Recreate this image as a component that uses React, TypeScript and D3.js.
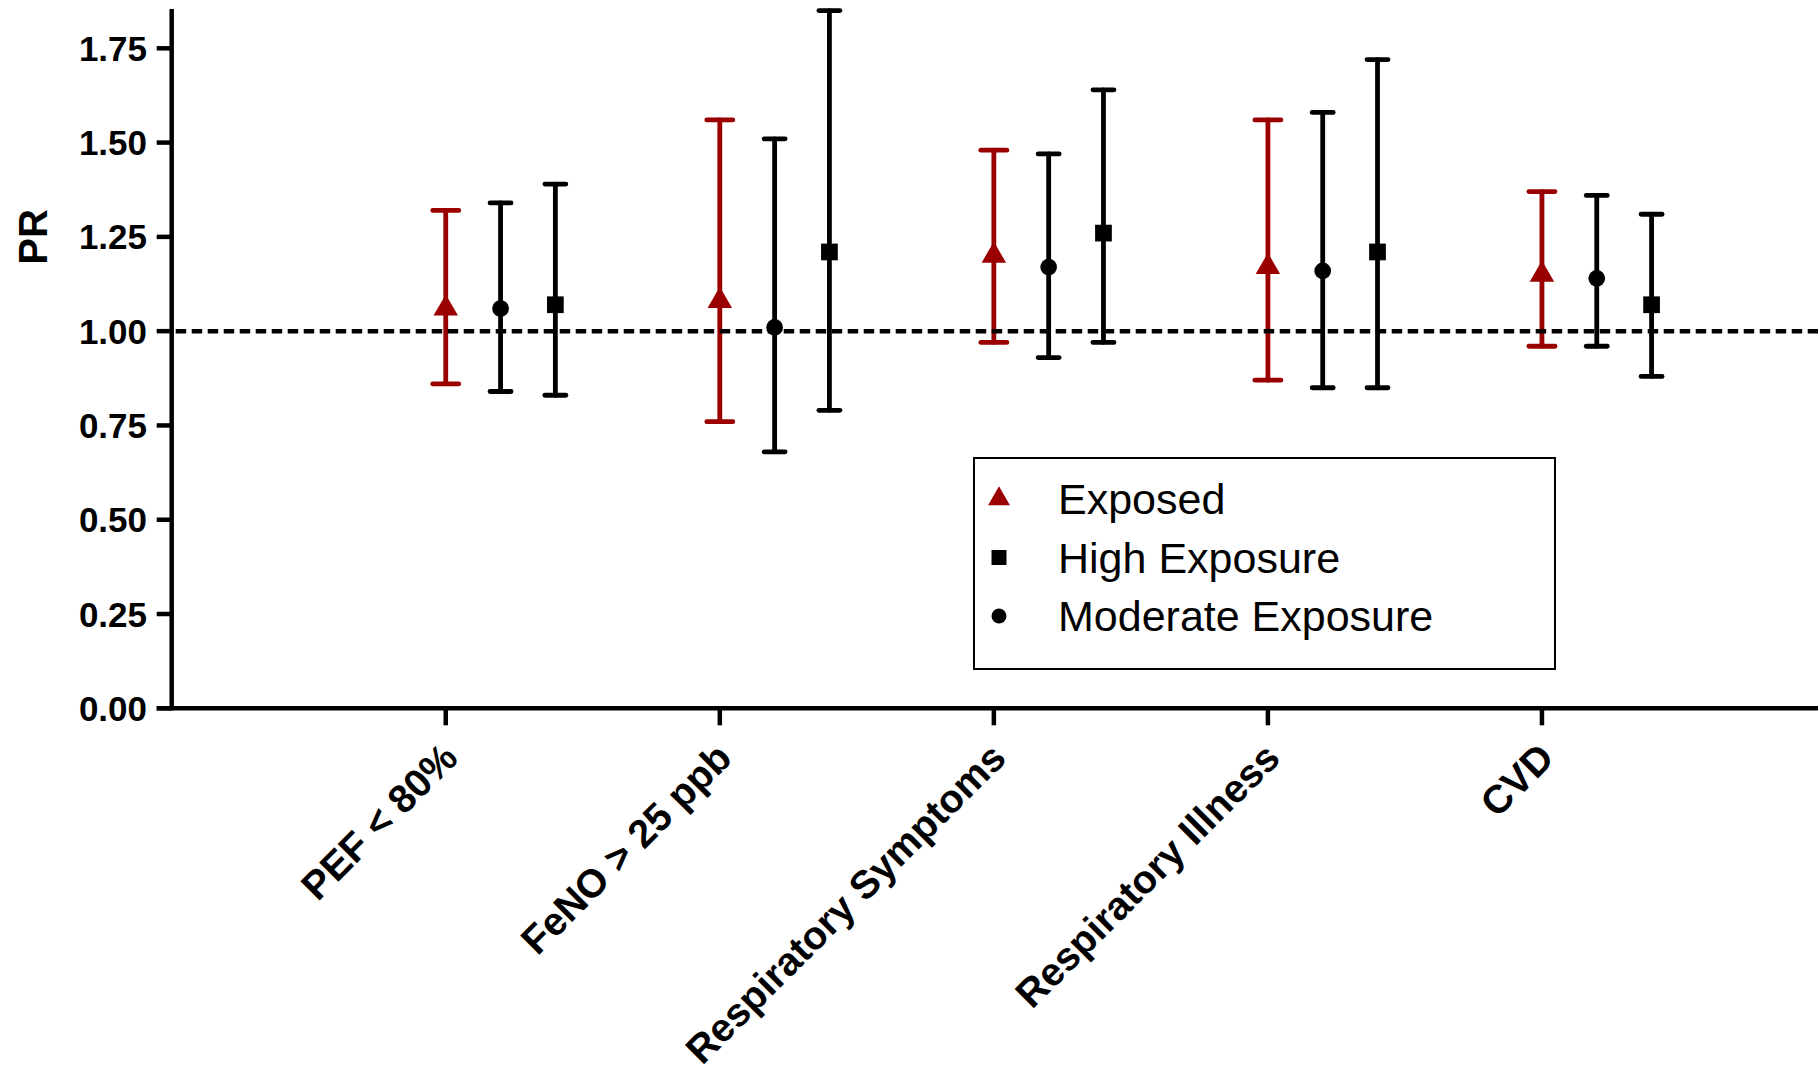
import React from "react";
import * as d3 from "d3";

const categories = ["PEF < 80%", "FeNO > 25 ppb", "Respiratory Symptoms", "Respiratory Illness", "CVD"];
const exposedPR = [1.06, 1.08, 1.2, 1.17, 1.15];
const exposedLo = [0.86, 0.76, 0.97, 0.87, 0.96];
const exposedHi = [1.32, 1.56, 1.48, 1.56, 1.37];
const moderatePR = [1.06, 1.01, 1.17, 1.16, 1.14];
const moderateLo = [0.84, 0.68, 0.93, 0.85, 0.96];
const moderateHi = [1.34, 1.51, 1.47, 1.58, 1.36];
const highPR = [1.07, 1.21, 1.26, 1.21, 1.07];
const highLo = [0.83, 0.79, 0.97, 0.85, 0.88];
const highHi = [1.39, 1.85, 1.64, 1.72, 1.31];
const yTicks = [0, 0.25, 0.5, 0.75, 1.0, 1.25, 1.5, 1.75];
const yTickLabels = ["0.00", "0.25", "0.50", "0.75", "1.00", "1.25", "1.50", "1.75"];
const referenceLine = 1.0;
const legendLabels = ["Exposed", "High Exposure", "Moderate Exposure"];

const RED = "#9b0000";
const FONT = "'Liberation Sans', Arial, Helvetica, sans-serif";

type Series = { name: string; pr: number[]; lo: number[]; hi: number[]; slot: number; color: string; symbol: d3.SymbolType; size: number; cap: number };

const series: Series[] = [
  { name: "Exposed", pr: exposedPR, lo: exposedLo, hi: exposedHi, slot: 0, color: RED, symbol: d3.symbolTriangle, size: 260, cap: 13 },
  { name: "Moderate Exposure", pr: moderatePR, lo: moderateLo, hi: moderateHi, slot: 1, color: "#000", symbol: d3.symbolCircle, size: 220, cap: 10.5 },
  { name: "High Exposure", pr: highPR, lo: highLo, hi: highHi, slot: 2, color: "#000", symbol: d3.symbolSquare, size: 280, cap: 10.5 },
];

export default function App() {
  const W = 1818, H = 1079;
  const axisX = 171.7;
  const y = d3.scaleLinear().domain([0, 1.75]).range([708.3, 48.3]);
  const yTop = 9;
  const x = d3.scaleLinear().domain([0, 30]).range([axisX, 1816]);
  const xOf = (g: number, s: number) => x(5 * (g + 1) + s);
  const sym = (s: Series) => d3.symbol().type(s.symbol).size(s.size)() as string;
  const legendSymbols = [series[0], series[2], series[1]];

  return (
    <svg width={W} height={H} style={{ position: "absolute", left: 0, top: 0, background: "#fff" }} fontFamily={FONT}>
      <rect x={0} y={0} width={W} height={H} fill="#fff" />
      {/* y axis */}
      <line x1={axisX} x2={axisX} y1={yTop} y2={y(0) + 2} stroke="#000" strokeWidth={4.5} />
      {yTicks.map((t, i) => (
        <g key={i}>
          <line x1={axisX - 15} x2={axisX} y1={y(t)} y2={y(t)} stroke="#000" strokeWidth={4.5} />
          <text x={147} y={y(t)} dy="0.36em" textAnchor="end" fontSize={35} fontWeight="bold">{yTickLabels[i]}</text>
        </g>
      ))}
      <text transform={`translate(47,237) rotate(-90)`} textAnchor="middle" fontSize={40} fontWeight="bold">PR</text>
      {/* x axis */}
      <line x1={axisX - 15} x2={W} y1={y(0)} y2={y(0)} stroke="#000" strokeWidth={4.5} />
      {categories.map((c, g) => {
        const tx = xOf(g, 0);
        return (
          <g key={c}>
            <line x1={tx} x2={tx} y1={y(0)} y2={y(0) + 17} stroke="#000" strokeWidth={4.5} />
            <text transform={`translate(${tx - 6},${740}) rotate(-45)`} dy="0.72em" textAnchor="end" fontSize={39.5} fontWeight="bold">{c}</text>
          </g>
        );
      })}
      {/* error bars */}
      {series.map((s) =>
        categories.map((c, g) => {
          const cx = xOf(g, s.slot);
          return (
            <g key={s.name + g} stroke={s.color} strokeWidth={4.8} strokeLinecap="round">
              <line x1={cx} x2={cx} y1={y(s.lo[g])} y2={y(s.hi[g])} />
              <line x1={cx - s.cap} x2={cx + s.cap} y1={y(s.hi[g])} y2={y(s.hi[g])} />
              <line x1={cx - s.cap} x2={cx + s.cap} y1={y(s.lo[g])} y2={y(s.lo[g])} />
            </g>
          );
        })
      )}
      {/* reference line */}
      <line x1={axisX + 4} x2={W} y1={y(referenceLine)} y2={y(referenceLine)} stroke="#000" strokeWidth={4.5} strokeDasharray="10.5 5.5" />
      {/* markers */}
      {series.map((s) =>
        categories.map((c, g) => (
          <path key={s.name + "m" + g} d={sym(s)} transform={`translate(${xOf(g, s.slot)},${y(s.pr[g])})`} fill={s.color} />
        ))
      )}
      {/* legend */}
      <rect x={974} y={458} width={581} height={211} fill="#fff" stroke="#000" strokeWidth={2} />
      {legendLabels.map((l, i) => {
        const s = legendSymbols[i];
        const ly = 499 + i * 58.5;
        return (
          <g key={l}>
            <path d={d3.symbol().type(s.symbol).size(s.size * 0.8)() as string} transform={`translate(999,${ly})`} fill={s.color} />
            <text x={1058} y={ly} dy="0.36em" fontSize={43}>{l}</text>
          </g>
        );
      })}
    </svg>
  );
}
